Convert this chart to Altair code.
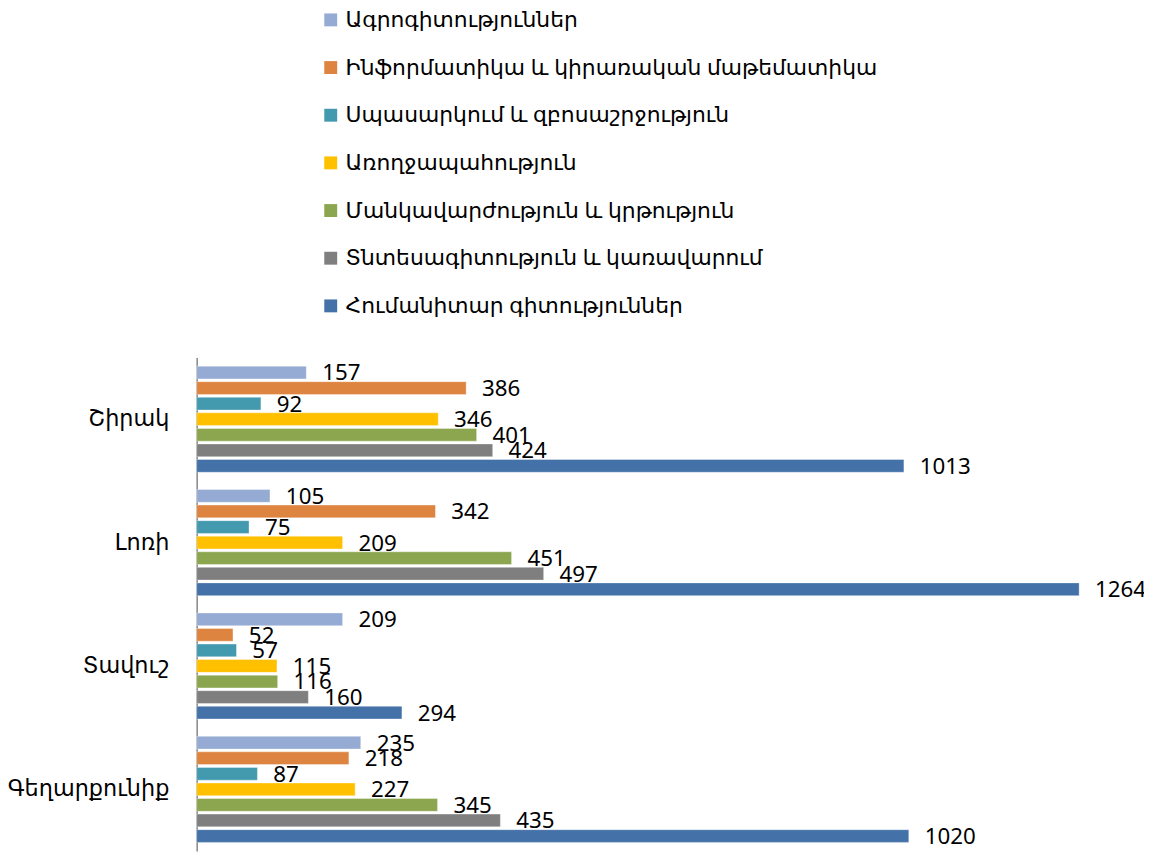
import altair as alt
import pandas as pd

regions = ["Շիրակ", "Լոռի", "Տավուշ", "Գեղարքունիք"]
series = [
    "Ագրոգիտություններ",
    "Ինֆորմատիկա և կիրառական մաթեմատիկա",
    "Սպասարկում և զբոսաշրջություն",
    "Առողջապահություն",
    "Մանկավարժություն և կրթություն",
    "Տնտեսագիտություն և կառավարում",
    "Հումանիտար գիտություններ",
]
values = {
    series[0]: [157, 105, 209, 235],
    series[1]: [386, 342, 52, 218],
    series[2]: [92, 75, 57, 87],
    series[3]: [346, 209, 115, 227],
    series[4]: [401, 451, 116, 345],
    series[5]: [424, 497, 160, 435],
    series[6]: [1013, 1264, 294, 1020],
}
colors = ["#95abd4", "#dd8440", "#4399ae", "#ffc000", "#8ba64f", "#7f7f7f", "#4472a8"]

rows = []
for s in series:
    for r, v in zip(regions, values[s]):
        rows.append({"region": r, "series": s, "value": v})
df = pd.DataFrame(rows)

FONT = "Noto Sans, DejaVu Sans, sans-serif"

base = alt.Chart(df).encode(
    y=alt.Y(
        "region:N",
        sort=regions,
        scale=alt.Scale(paddingInner=0.14, paddingOuter=0.07),
        axis=alt.Axis(
            title=None,
            ticks=False,
            labelPadding=28,
            labelFontSize=22.5,
            labelColor="#000000",
            labelFont=FONT,
            domainColor="#868686",
            domainWidth=1.5,
        ),
    ),
    yOffset=alt.YOffset("series:N", sort=series, scale=alt.Scale(paddingInner=0.18, paddingOuter=0)),
    x=alt.X("value:Q", scale=alt.Scale(domain=[0, 1300], nice=False), axis=None),
)

bars = base.mark_bar(stroke="#ffffff", strokeWidth=0.6, strokeOpacity=0.6).encode(
    color=alt.Color(
        "series:N",
        sort=series,
        scale=alt.Scale(domain=series, range=colors),
        legend=alt.Legend(
            title=None,
            orient="none",
            legendX=124,
            legendY=-351,
            symbolType="square",
            symbolSize=169,
            symbolStrokeWidth=0,
            labelFontSize=22,
            labelFont=FONT,
            labelColor="#000000",
            labelLimit=800,
            rowPadding=26,
            labelOffset=4,
        ),
    )
)

labels = base.mark_text(align="left", baseline="middle", dx=16, dy=1, fontSize=22.5, font=FONT, color="#000000").encode(
    text="value:Q"
)

chart = (
    (bars + labels)
    .properties(
        width=914,
        height=497,
        autosize=alt.AutoSizeParams(type="none"),
        padding={"left": 190, "top": 349, "right": 40, "bottom": 0},
    )
    .configure(background="#ffffff")
    .configure_view(stroke=None, strokeWidth=0)
)

chart.save("out.html", embed_options={"renderer": "svg", "actions": False})
